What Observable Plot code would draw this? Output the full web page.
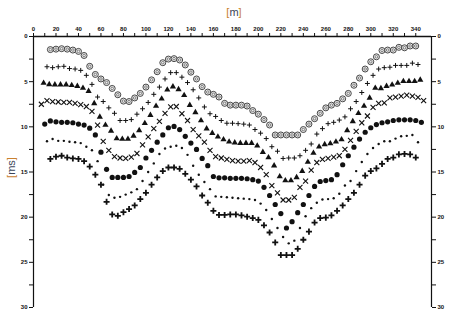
<!DOCTYPE html>
<html><head><meta charset="utf-8">
<script src="https://cdn.jsdelivr.net/npm/d3@7"></script>
<script src="https://cdn.jsdelivr.net/npm/@observablehq/plot@0.6"></script>
<style>
body{margin:0;background:#fff;}
#wrap{position:relative;width:462px;height:319px;overflow:hidden;}
.lab{position:absolute;font-family:"Liberation Sans",Arial,sans-serif;font-size:11px;white-space:nowrap;line-height:13px;height:13px;text-align:center;}
.br{color:#c9812f;}
.tx{color:#3c4558;}
#xl{left:224px;top:6px;width:20px;}
#yl{left:-2px;top:161px;width:26px;transform:rotate(-90deg);transform-origin:50% 50%;}
</style></head><body>
<div id="wrap">
  <div class="lab" id="xl"><span class="br">[</span><span class="tx">m</span><span class="br">]</span></div>
  <div class="lab" id="yl"><span class="br">[</span><span class="tx">ms</span><span class="br">]</span></div>
</div>
<script>
// distance [m] ticks (top axis) and time [ms] ticks (side axes)
const distanceTicks = [0,10,20,30,40,50,60,70,80,90,100,110,120,130,140,150,160,170,180,190,200,210,220,230,240,250,260,270,280,290,300,310,320,330,340];
const timeTicks = [0,2.5,5,7.5,10,12.5,15,17.5,20,22.5,25,27.5,30];

// first station [m] of each series, station spacing 5 m
const seriesStart = [15, 12, 9, 7, 10, 12, 15];
const stationStep = 5;

// travel times [ms]
const ringTimes = [1.45,1.4,1.35,1.4,1.5,1.65,2.1,3.3,4.2,4.7,
5.1,5.75,6.45,7.15,7.2,6.8,6.3,5.6,4.8,3.9,
2.9,2.5,2.45,2.6,3.15,3.95,4.7,5.55,6.15,6.4,
6.7,7.4,7.6,7.6,7.6,7.7,8.2,8.6,9.2,9.8,
10.9,10.9,10.9,10.9,10.9,10.3,9.7,9.1,8.5,7.9,
7.6,7.4,6.9,6.3,5.4,4.6,3.6,2.8,2.25,1.55,
1.5,1.5,1.2,1.25,1.05,1.05];
const plusTimes = [3.35,3.45,3.35,3.3,3.55,3.6,3.75,4.3,5.3,6.7,
7.2,7.9,8.5,9.3,9.3,9.2,8.6,8.0,7.3,6.4,
5.6,4.7,4.0,4.0,4.5,5.1,5.9,6.8,7.8,8.55,
8.85,9.3,9.6,9.6,9.65,9.7,9.8,10.3,10.7,11.3,
12.2,12.7,13.5,13.45,13.45,13.2,12.6,11.9,10.8,10.2,
9.65,9.5,9.25,8.9,8.0,7.2,6.2,5.2,4.3,3.6,
3.45,3.4,3.2,3.2,3.2,2.95,3.1];
const triangleTimes = [5.15,5.3,5.33,5.33,5.33,5.4,5.5,5.7,6.05,7.4,
8.9,9.8,10.45,11.3,11.35,11.35,11.0,10.4,9.6,8.7,
7.7,6.9,5.9,5.55,5.85,6.5,7.6,8.4,9.3,10.2,
10.7,11.1,11.4,11.65,11.75,11.8,11.8,11.8,12.1,12.8,
13.4,14.3,15.5,15.95,15.95,15.6,14.9,13.9,12.9,12.2,
11.95,11.85,11.65,11.4,10.4,9.4,8.5,7.7,6.8,5.7,
5.75,5.5,5.35,5.15,4.95,4.95,4.95,4.8];
const crossTimes = [7.5,7.1,7.2,7.25,7.3,7.3,7.4,7.55,7.75,8.3,
9.8,11.6,12.6,13.3,13.45,13.5,13.35,12.95,12.0,11.1,
10.2,9.4,8.5,7.8,7.75,8.55,9.3,10.3,11.0,11.7,
12.6,13.3,13.45,13.6,13.75,13.8,13.8,13.75,13.95,14.5,
15.3,16.5,17.3,18.1,18.1,17.8,16.7,16.0,14.8,13.95,
13.6,13.5,13.35,13.2,12.5,11.5,10.5,9.55,8.8,7.85,
7.4,7.35,6.8,6.7,6.6,6.5,6.6,6.75,7.1];
const discTimes = [9.7,9.35,9.45,9.5,9.5,9.55,9.7,9.8,10.15,10.9,
12.8,14.7,15.6,15.6,15.6,15.5,15.05,14.5,13.45,12.6,
11.7,10.9,10.1,9.95,10.3,11.05,11.8,12.5,13.5,14.3,
15.5,15.65,15.65,15.7,15.7,15.7,15.75,15.85,16.0,16.7,
17.6,18.6,19.6,21.2,20.5,19.5,18.6,17.6,16.6,16.05,
15.95,15.85,15.3,14.2,13.2,12.25,11.35,10.6,10.1,9.75,
9.55,9.45,9.3,9.22,9.22,9.22,9.3,9.5];
const dotTimes = [11.6,11.35,11.55,11.55,11.65,11.7,11.8,12.2,12.6,13.8,
16.4,17.55,17.85,17.75,17.5,17.25,16.9,16.0,15.0,14.05,
13.0,12.4,12.2,12.1,12.35,13.1,14.3,15.3,16.1,16.9,
17.7,17.75,17.8,17.85,17.9,17.95,18.0,18.1,18.5,19.2,
20.2,21.2,22.2,22.9,22.6,21.2,19.9,19.0,18.4,18.05,
18.0,17.9,17.4,16.5,16.0,14.9,13.9,13.0,12.35,11.9,
11.6,11.6,11.3,11.05,11.0,10.9,11.7];
const boldPlusTimes = [13.55,13.3,13.2,13.4,13.5,13.55,13.8,14.4,15.3,16.4,
18.3,19.7,19.85,19.45,19.1,18.7,18.0,17.3,16.4,15.6,
14.9,14.5,14.5,14.65,15.2,15.85,16.6,17.6,18.4,19.3,
19.75,19.75,19.7,19.7,19.8,19.95,20.1,20.3,20.9,21.7,
22.8,24.2,24.2,24.2,23.5,22.5,21.6,20.6,20.1,20.05,
19.8,19.3,18.7,18.0,17.3,16.4,15.4,14.9,14.6,14.1,
13.55,13.4,13.05,13.0,13.05,13.4];

const xMax = 354;
const toRows = (k, times) => times.map((t, i) => ({m: seriesStart[k] + stationStep * i, t}));
const ring = toRows(0, ringTimes), plus = toRows(1, plusTimes), tri = toRows(2, triangleTimes),
      cross = toRows(3, crossTimes), disc = toRows(4, discTimes), dots = toRows(5, dotTimes),
      bold = toRows(6, boldPlusTimes);

const axisFont = {fontSize: 6, fontWeight: "bold", fontFamily: "Liberation Sans, Arial, sans-serif", fill: "#111"};
const fmt5 = d => (d % 5 === 0 ? String(d) : "");
const fmt20 = d => (d % 20 === 0 ? String(d) : "");

const chart = Plot.plot({
  width: 462, height: 319,
  marginLeft: 33, marginRight: 31, marginTop: 36, marginBottom: 12,
  x: {domain: [0, xMax]},
  y: {domain: [0, 30], reverse: true},
  style: {background: "white", color: "#111"},
  marks: [
    Plot.ruleY([0], {stroke: "#111", strokeWidth: 1.5}),
    Plot.ruleX([0, xMax], {stroke: "#111", strokeWidth: 1.2}),
    Plot.axisX(distanceTicks, {anchor: "top", tickSize: 4, tickPadding: 2, tickFormat: fmt20, label: null, stroke: "#111", ...axisFont}),
    Plot.axisY(timeTicks, {anchor: "left", tickSize: 4, tickPadding: 2, tickFormat: fmt5, label: null, stroke: "#111", ...axisFont}),
    Plot.axisY(timeTicks, {anchor: "right", tickSize: 4, tickPadding: 2, tickFormat: fmt5, label: null, stroke: "#111", ...axisFont}),
    Plot.dot(ring, {x: "m", y: "t", r: 3, stroke: "#333", strokeWidth: 0.9, fill: "#eee"}),
    Plot.dot(ring, {x: "m", y: "t", r: 1.3, stroke: "#666", strokeWidth: 0.8, fill: "none"}),
    Plot.dot(plus, {x: "m", y: "t", symbol: "plus", r: 1.7, stroke: "#111", strokeWidth: 1}),
    Plot.dot(tri, {x: "m", y: "t", symbol: "triangle", r: 2.3, fill: "#111", stroke: "none"}),
    Plot.dot(cross, {x: "m", y: "t", symbol: "times", r: 2.4, stroke: "#111", strokeWidth: 1.1}),
    Plot.dot(disc, {x: "m", y: "t", r: 2.6, fill: "#111", stroke: "none"}),
    Plot.dot(dots, {x: "m", y: "t", r: 1.2, fill: "#111", stroke: "none"}),
    Plot.dot(bold, {x: "m", y: "t", symbol: "plus", r: 2.1, stroke: "#111", strokeWidth: 1.8})
  ]
});
document.getElementById("wrap").prepend(chart);
chart.style.position = "absolute";
chart.style.left = "0";
chart.style.top = "0";
</script>
</body></html>
